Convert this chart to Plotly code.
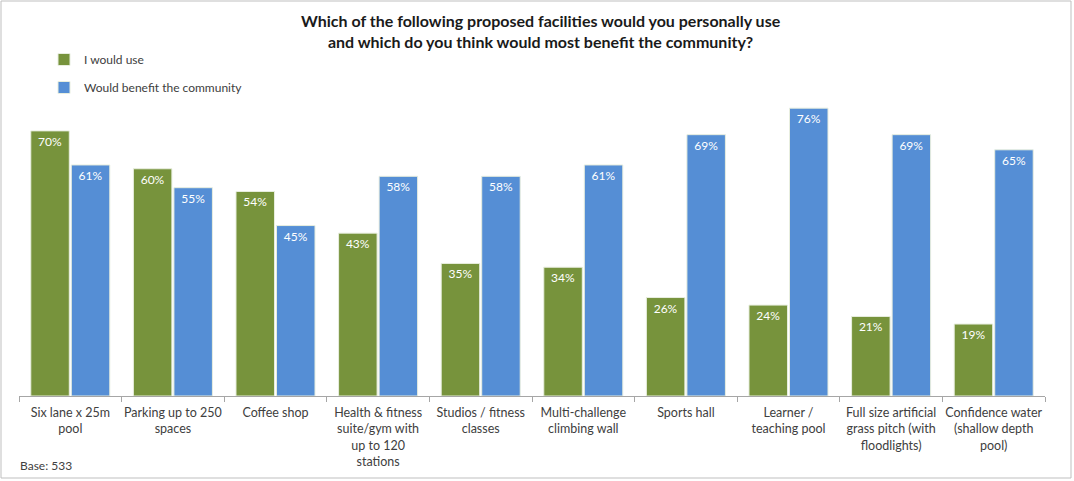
import plotly.graph_objects as go

categories = [
    "Six lane x 25m<br>pool",
    "Parking up to 250<br>spaces",
    "Coffee shop",
    "Health & fitness<br>suite/gym with<br>up to 120<br>stations",
    "Studios / fitness<br>classes",
    "Multi-challenge<br>climbing wall",
    "Sports hall",
    "Learner /<br>teaching pool",
    "Full size artificial<br>grass pitch (with<br>floodlights)",
    "Confidence water<br>(shallow depth<br>pool)",
]
would_use = [70, 60, 54, 43, 35, 34, 26, 24, 21, 19]
benefit_community = [61, 55, 45, 58, 58, 61, 69, 76, 69, 65]

GREEN = "#77933C"
BLUE = "#558ED5"
FONT = "Lato, Carlito, 'Liberation Sans', sans-serif"

W, H = 1074, 481
L, R, T, B = 19, 29, 93, 85
pw, ph = W - L - R, H - T - B

fig = go.Figure()
for i, (name, vals, col) in enumerate([("I would use", would_use, GREEN),
                                       ("Would benefit the community", benefit_community, BLUE)]):
    fig.add_trace(go.Bar(
        x=categories, y=vals, name=name, legendgroup=f"g{i}",
        marker=dict(color=col, line=dict(color="#E8EEDF", width=1)),
        text=[f"{v}%" for v in vals],
        textposition="inside", insidetextanchor="end",
        textfont=dict(color="white", size=12, family=FONT),
        textangle=0,
    ))

def px_x(p):
    return (p - L) / pw

def px_y(p):
    return (H - B - p) / ph

fig.update_layout(
    width=W, height=H,
    margin=dict(l=L, r=R, t=T, b=B, autoexpand=False),
    paper_bgcolor="white", plot_bgcolor="white",
    barmode="group", bargap=0.21, bargroupgap=0.05,
    font=dict(family=FONT, color="#404040", size=12),
    showlegend=True,
    legend=dict(
        x=px_x(44), y=px_y(45), xanchor="left", yanchor="top",
        orientation="v", font=dict(size=12, color="#404040"),
        tracegroupgap=9, itemwidth=30, bgcolor="rgba(0,0,0,0)",
    ),
    xaxis=dict(
        showline=True, linecolor="#A6A6A6", linewidth=1,
        ticks="outside", ticklen=5, tickcolor="#A6A6A6", tickson="boundaries",
        tickfont=dict(size=12.5, color="#404040"), tickangle=0, automargin=False,
        ticklabelstandoff=5,
        showgrid=False,
    ),
    yaxis=dict(range=[0, 80], visible=False, showgrid=False),
    annotations=[
        dict(
            text="<b>Which of the following proposed facilities would you personally use<br>and which do you think would most benefit the community?</b>",
            xref="paper", yref="paper", x=px_x(541), y=px_y(9),
            xanchor="center", yanchor="top", showarrow=False,
            font=dict(size=16, color="#1a1a1a", family=FONT),
        ),
        dict(
            text="Base: 533", xref="paper", yref="paper",
            x=px_x(18), y=px_y(465), xanchor="left", yanchor="middle",
            showarrow=False, font=dict(size=12, color="#404040", family=FONT),
        ),
    ],
    shapes=[dict(
        type="rect", xref="paper", yref="paper",
        x0=px_x(1), x1=px_x(1071), y0=px_y(478), y1=px_y(1),
        line=dict(color="#BFBFBF", width=1), layer="below",
    )],
)

fig.write_html("out.html", config={"displayModeBar": False},
               post_script="document.body.style.margin='0';document.body.style.padding='0';")
